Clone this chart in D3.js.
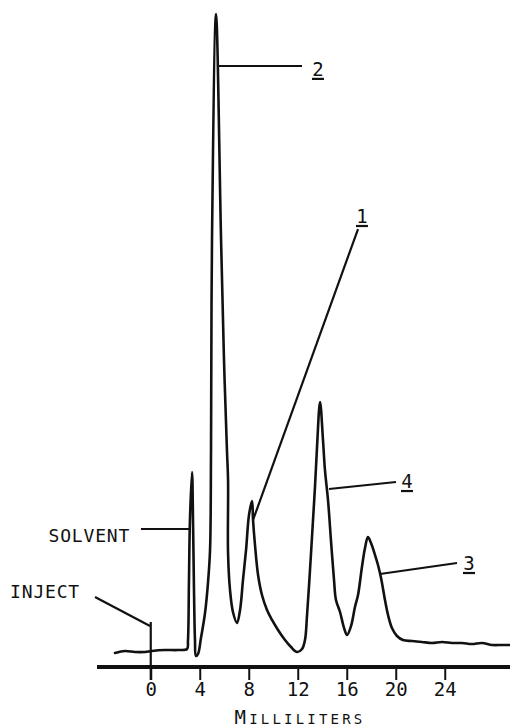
<!DOCTYPE html>
<html>
<head>
<meta charset="utf-8">
<script src="https://cdn.jsdelivr.net/npm/d3@7"></script>
<style>
  body { margin: 0; background: #fff; }
  text { font-family: "DejaVu Sans Mono", monospace; fill: #111; }
</style>
</head>
<body>
<div id="chart"></div>
<script>
// elution volume (mL) and detector response (arbitrary units, 0 = baseline)
const volume = [
    -2.92, -2.10, -1.29, -0.47, 0.10, 1.16, 2.22, 2.96, 3.04, 3.12,
    3.20, 3.37, 3.45, 3.53, 3.61, 3.69, 3.86, 4.10, 4.43, 4.67,
    4.84, 4.92, 5.00, 5.33, 5.74, 5.98, 6.22, 6.31, 6.31, 6.47,
    6.71, 7.04, 7.29, 7.53, 7.78, 8.02, 8.27, 8.35, 8.51, 8.76,
    9.08, 9.49, 9.90, 10.39, 10.96, 11.45, 11.94, 12.35, 12.59, 12.76,
    13.00, 13.24, 13.41, 13.57, 13.82, 14.06, 14.22, 14.47, 14.71, 14.96,
    15.12, 15.45, 15.78, 16.02, 16.35, 16.67, 16.92, 17.24, 17.49, 17.73,
    17.98, 18.31, 18.55, 18.80, 19.12, 19.37, 19.69, 20.10, 20.59, 21.33,
    22.14, 22.96, 23.78, 24.59, 25.41, 26.22, 27.04, 27.86, 28.67, 29.33
];
const response = [
    -0.16, 0.16, 0, 0, 0.16, 0.31, 0.31, 0.47, 1.88, 11.29,
    20.69, 28.21, 20.69, 9.72, 1.88, -0.63, -0.31, 2.19, 6.11, 10.81,
    15.99, 31.66, 64.58, 100, 64.58, 45.77, 31.66, 26.96, 15.52, 9.72,
    6.27, 4.55, 6.58, 11.29, 15.99, 21.47, 23.67, 20.69, 16.77, 12.07,
    8.93, 6.58, 5.02, 3.45, 1.88, 0.78, 0, 0.47, 1.88, 5.80,
    12.85, 20.5, 26.0, 32.0, 39.18, 33.23, 28.53, 23.82, 17.55, 11.29,
    8.15, 6.27, 3.76, 2.66, 4.08, 7.05, 8.93, 13.32, 16.30, 18.03,
    17.08, 15.20, 13.64, 11.60, 8.15, 5.80, 3.76, 2.51, 1.88, 1.72,
    1.57, 1.41, 1.57, 1.41, 1.41, 1.25, 1.41, 1.10, 1.10, 1.10
];
const tickValues = [0, 4, 8, 12, 16, 20, 24];
const peakNames = ["2", "1", "4", "3"];
const peakVolume = [5.41, 8.35, 14.55, 18.71];
const peakResponse = [91.85, 20.69, 25.55, 12.23];
const axisTitle = "Milliliters";

const width = 510, height = 728;

const x = d3.scaleLinear().domain([-3, 29]).range([114, 506]);
const y = d3.scaleLinear().domain([0, 100]).range([652, 14]);
const axisY = 667;

// where each peak label sits: [line end mL, line end response, text mL, text response]
const labelSpots = [
    [12.35, 91.85, 13.65, 90.3],
    [16.92, 66.3, 17.24, 67.24],
    [20.02, 26.65, 20.92, 25.7],
    [25.0, 13.95, 25.98, 12.85]
];

const svg = d3.select("#chart")
    .append("svg")
        .attr("width", width)
        .attr("height", height)
        .attr("viewBox", [0, 0, width, height]);

// axis
const xAxis = g => g
    .attr("transform", `translate(0,${axisY})`)
    .call(d3.axisBottom(x).tickValues(tickValues).tickSize(13).tickSizeOuter(0).tickPadding(3))
    .call(g => g.select(".domain").remove())
    .call(g => g.selectAll(".tick line").attr("stroke", "#111").attr("stroke-width", 2))
    .call(g => g.selectAll(".tick text")
        .attr("font-family", "DejaVu Sans Mono")
        .attr("font-size", 19)
        .attr("fill", "#111"));

svg.append("g").call(xAxis);

svg.append("line")
    .attr("x1", 97).attr("x2", width)
    .attr("y1", axisY).attr("y2", axisY)
    .attr("stroke", "#111")
    .attr("stroke-width", 4);

const title = svg.append("text")
    .attr("x", 300)
    .attr("y", 724)
    .attr("text-anchor", "middle")
    .attr("letter-spacing", 3.2);
title.append("tspan").attr("font-size", 19).text(axisTitle[0].toUpperCase());
title.append("tspan").attr("font-size", 14).text(axisTitle.slice(1).toUpperCase());

// trace
const data = volume.map((v, i) => ({v, r: response[i]}));
const line = d3.line()
    .x(d => x(d.v))
    .y(d => y(d.r))
    .curve(d3.curveCatmullRom.alpha(0.5));

svg.append("path")
    .datum(data)
    .attr("fill", "none")
    .attr("stroke", "#111")
    .attr("stroke-width", 2.6)
    .attr("stroke-linejoin", "round")
    .attr("stroke-linecap", "round")
    .attr("d", line);

// peak labels
const ann = svg.append("g")
    .attr("stroke", "#111")
    .attr("stroke-width", 2.2);

peakNames.forEach((name, i) => {
    const s = labelSpots[i];
    ann.append("line")
        .attr("x1", x(peakVolume[i])).attr("y1", y(peakResponse[i]))
        .attr("x2", x(s[0])).attr("y2", y(s[1]));
    svg.append("text")
        .attr("x", x(s[2]))
        .attr("y", y(s[3]))
        .attr("text-anchor", "middle")
        .attr("font-size", 19)
        .text(name);
    ann.append("line")
        .attr("x1", x(s[2]) - 6).attr("x2", x(s[2]) + 6)
        .attr("y1", y(s[3]) + 3).attr("y2", y(s[3]) + 3);
});

// solvent and inject marks
ann.append("line")
    .attr("x1", x(-0.8)).attr("y1", y(19.28))
    .attr("x2", x(3.2)).attr("y2", y(19.28));
svg.append("text")
    .attr("x", x(-1.69))
    .attr("y", y(17.24))
    .attr("text-anchor", "end")
    .attr("font-size", 18)
    .attr("letter-spacing", 0.8)
    .text("SOLVENT");

ann.append("line")
    .attr("x1", x(-4.55)).attr("y1", y(8.62))
    .attr("x2", x(-0.06)).attr("y2", y(4.08));
ann.append("line")
    .attr("x1", x(0)).attr("y1", y(4.7))
    .attr("x2", x(0)).attr("y2", axisY + 13);
svg.append("text")
    .attr("x", x(-5.78))
    .attr("y", y(8.46))
    .attr("text-anchor", "end")
    .attr("font-size", 18)
    .attr("letter-spacing", 0.8)
    .text("INJECT");
</script>
</body>
</html>
